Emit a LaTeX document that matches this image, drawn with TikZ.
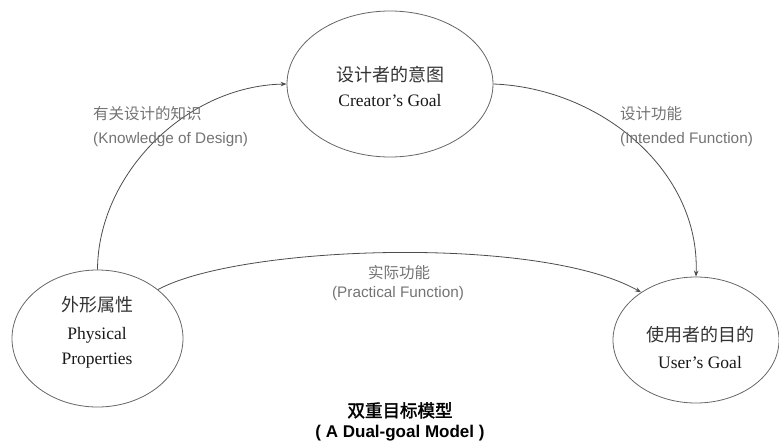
\documentclass[tikz,border=0pt]{standalone}
\usepackage{fontspec}
\setmainfont{Liberation Serif}
\newfontfamily\cjk{Noto Sans CJK SC}
\newfontfamily\cjkb[FakeBold=2]{Noto Sans CJK SC}
\newfontfamily\lab{Liberation Sans}
\usetikzlibrary{shapes.geometric,arrows.meta}
\tikzset{
  goal/.style={ellipse, draw=black!60, line width=0.8pt, inner sep=0pt},
  conn/.style={draw=black!70, line width=0.8pt, -{Stealth[length=6pt,width=4.5pt]}},
  elabzh/.style={font=\cjk\fontsize{15.5}{18}\selectfont, text=black!55, inner sep=0pt},
  elaben/.style={font=\lab\fontsize{15.3}{18}\selectfont, text=black!55, inner sep=0pt},
  nzh/.style={font=\cjk\fontsize{18}{21}\selectfont, text=black!80, inner sep=0pt, anchor=base},
  nen/.style={font=\fontsize{17.5}{20}\selectfont, text=black!90, inner sep=0pt, anchor=base},
}
\begin{document}
\begin{tikzpicture}[x=1pt,y=-1pt]
\useasboundingbox (0,0) rectangle (779,445);
% ellipses
\node[goal, minimum width=206pt, minimum height=146pt] (creator) at (390,84) {};
\node[goal, minimum width=171pt, minimum height=137pt] (phys) at (97.5,338.5) {};
\node[goal, minimum width=166pt, minimum height=126pt] (user) at (696,340) {};
% node texts
\node[nzh] (creatorzh) at (390,81.5) {设计者的意图};
\node[nen] (creatoren) at (390,106) {Creator's Goal};
\node[nzh] (physzh) at (97,311.5) {外形属性};
\node[nen] (physen1) at (97,339) {Physical};
\node[nen] (physen2) at (97,364) {Properties};
\node[nzh] (userzh) at (700,341.5) {使用者的目的};
\node[nen] (useren) at (700,368) {User's Goal};
% connectors
\draw[conn] (phys.north) .. controls (98,175) and (185,86) .. (creator.west);
\draw[conn] (creator.east) .. controls (600,88) and (700,170) .. (user.north);
\draw[conn] (phys.39) .. controls (240,245) and (540,235) .. (user.139);
% edge labels
\node[elabzh, anchor=base west] (know1) at (93,119) {有关设计的知识};
\node[elaben, anchor=base west] (know2) at (93,143) {(Knowledge of Design)};
\node[elabzh, anchor=base west] (int1) at (620,119) {设计功能};
\node[elaben, anchor=base west] (int2) at (620,143) {(Intended Function)};
\node[elabzh, anchor=base] (prac1) at (399,278) {实际功能};
\node[elaben, anchor=base] (prac2) at (398,297) {(Practical Function)};
% title
\node[font=\cjkb\fontsize{17.5}{20}\selectfont, inner sep=0pt, anchor=base] (title1) at (400,417) {双重目标模型};
\node[font=\lab\bfseries\fontsize{17}{20}\selectfont, inner sep=0pt, anchor=base] (title2) at (400,437.5) {( A Dual-goal Model )};
\end{tikzpicture}
\end{document}
